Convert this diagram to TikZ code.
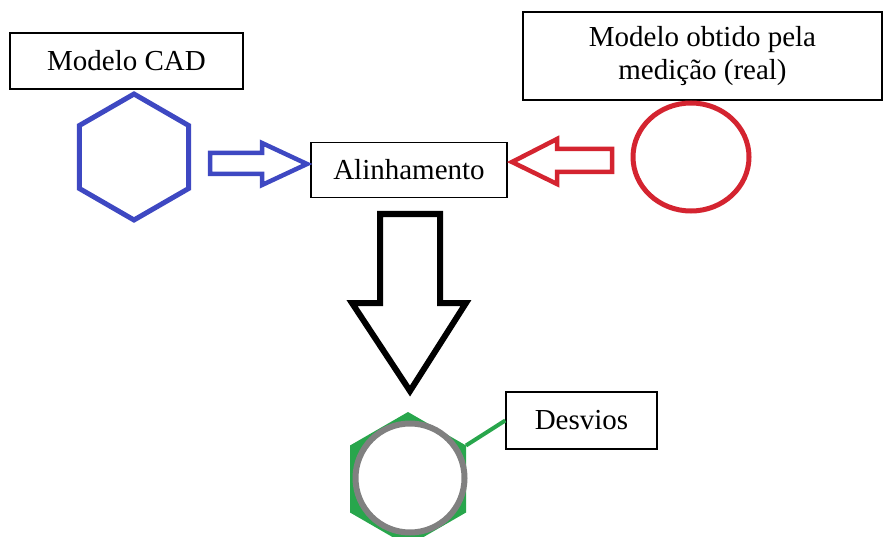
\documentclass[tikz,border=0pt]{standalone}
\usepackage{fontspec}
\setmainfont{Liberation Serif}
\definecolor{cadblue}{RGB}{62,72,194}
\definecolor{realred}{RGB}{212,36,48}
\definecolor{devgreen}{RGB}{40,166,76}
\definecolor{devgray}{RGB}{128,128,128}
\tikzset{
  label box/.style={draw=black, line width=1.5pt, fill=white, inner sep=0pt, align=center,
    font=\fontsize{29}{33}\selectfont},
  block arrow/.style={line width=4.5pt, line join=miter, fill=white}
}
\begin{document}
\begin{tikzpicture}[x=1pt,y=-1pt]
\useasboundingbox (0,0) rectangle (890,537);
% text boxes
\node[label box, minimum width=233pt, minimum height=56pt] (cad) at (126.5,61) {Modelo CAD};
\node[label box, minimum width=359pt, minimum height=88pt] (real) at (702.5,56) {Modelo obtido pela\\medição (real)};
\node[label box, minimum width=196pt, minimum height=55pt] (alin) at (409,170) {Alinhamento};
\node[label box, minimum width=151pt, minimum height=57pt] (desv) at (581.5,420.5) {Desvios};
% CAD hexagon
\draw[cadblue, line width=5pt, line join=miter]
  (134,94) -- (188.6,125.5) -- (188.6,188.5) -- (134,220) -- (79.4,188.5) -- (79.4,125.5) -- cycle;
% measured circle
\draw[realred, line width=5pt] (691,157) ellipse [x radius=58, y radius=54];
% blue arrow
\draw[block arrow, draw=cadblue] (210,153) -- (262,153) -- (262,143) -- (307,164) -- (262,185) -- (262,174) -- (210,174) -- cycle;
% red arrow
\draw[block arrow, draw=realred] (612,149) -- (557,149) -- (557,139) -- (512,162) -- (557,184) -- (557,172) -- (612,172) -- cycle;
% black arrow
\draw[block arrow, draw=black, line width=6pt] (380,214) -- (440,214) -- (440,303) -- (466,303) -- (410,391) -- (352,303) -- (380,303) -- cycle;
% deviation hexagon + circle
\coordinate (hexc) at (408,479);
\coordinate (hexur) at (466,445.5);
\fill[devgreen] (408,412) -- (466,445.5) -- (466,512.5) -- (408,546) -- (350,512.5) -- (350,445.5) -- cycle;
\draw[devgray, line width=6pt, fill=white] (410,478) circle [radius=54.5];
\draw[devgreen, line width=4pt] (hexur) -- (desv.west);
\end{tikzpicture}
\end{document}
